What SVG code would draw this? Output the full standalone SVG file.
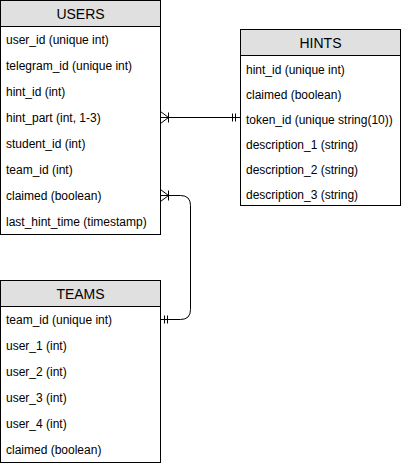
<svg xmlns="http://www.w3.org/2000/svg" width="402" height="466" viewBox="0 0 402 466">
<style>
.box{fill:#ffffff;stroke:#000000;stroke-width:1}
.hdr{fill:#e0e0e0;stroke:#000000;stroke-width:1}
.title{font-family:"Liberation Sans",Arial,sans-serif;font-size:14px;fill:#000000;text-anchor:middle}
.row{font-family:"Liberation Sans",Arial,sans-serif;font-size:12px;fill:#000000}
.edge{fill:none;stroke:#000000;stroke-width:1}
</style>
<rect width="402" height="466" fill="#ffffff"/>
<g id="users">
<rect class="box" x="0.5" y="0.5" width="160" height="234"/>
<rect class="hdr" x="0.5" y="0.5" width="160" height="26"/>
<text class="title" x="80.5" y="18.5">USERS</text>
<text class="row" x="6" y="44">user_id (unique int)</text>
<text class="row" x="6" y="70">telegram_id (unique int)</text>
<text class="row" x="6" y="96">hint_id (int)</text>
<text class="row" x="6" y="122">hint_part (int, 1-3)</text>
<text class="row" x="6" y="148">student_id (int)</text>
<text class="row" x="6" y="174">team_id (int)</text>
<text class="row" x="6" y="200">claimed (boolean)</text>
<text class="row" x="6" y="226">last_hint_time (timestamp)</text>
</g>
<g id="hints">
<rect class="box" x="240.5" y="29.5" width="160" height="176"/>
<rect class="hdr" x="240.5" y="29.5" width="160" height="26"/>
<text class="title" x="320.5" y="47.5">HINTS</text>
<text class="row" x="246" y="74">hint_id (unique int)</text>
<text class="row" x="246" y="99">claimed (boolean)</text>
<text class="row" x="246" y="124">token_id (unique string(10))</text>
<text class="row" x="246" y="149">description_1 (string)</text>
<text class="row" x="246" y="174">description_2 (string)</text>
<text class="row" x="246" y="199">description_3 (string)</text>
</g>
<g id="teams">
<rect class="box" x="0.5" y="280.5" width="160" height="182"/>
<rect class="hdr" x="0.5" y="280.5" width="160" height="26"/>
<text class="title" x="80.5" y="298.5">TEAMS</text>
<text class="row" x="6" y="324">team_id (unique int)</text>
<text class="row" x="6" y="350">user_1 (int)</text>
<text class="row" x="6" y="376">user_2 (int)</text>
<text class="row" x="6" y="402">user_3 (int)</text>
<text class="row" x="6" y="428">user_4 (int)</text>
<text class="row" x="6" y="454">claimed (boolean)</text>
</g>
<g id="connectors">
<g id="hints-users">
<path class="edge" d="M160.5,117.5 H240.5"/>
<path class="edge" d="M160.5,111.5 L168.5,117.5 L160.5,123.5 M168.5,112.5 V122.5"/>
<path class="edge" d="M232.5,113.5 V121.5 M235.5,113.5 V121.5"/>
</g>
<g id="teams-users">
<path class="edge" d="M160.5,195.5 H180.5 Q190.5,195.5 190.5,205.5 V309.5 Q190.5,319.5 180.5,319.5 H160.5"/>
<path class="edge" d="M160.5,189.5 L168.5,195.5 L160.5,201.5 M168.5,190.5 V200.5"/>
<path class="edge" d="M164.5,315.5 V323.5 M167.5,315.5 V323.5"/>
</g>
</g>
</svg>
